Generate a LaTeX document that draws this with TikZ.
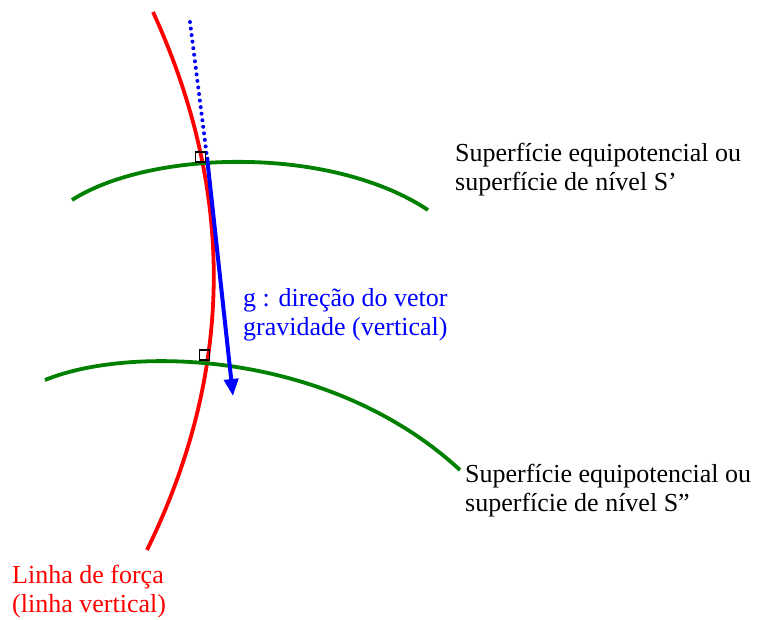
\documentclass[tikz,border=0pt]{standalone}
\usepackage{fontspec}
\setmainfont{Liberation Serif}
\usetikzlibrary{arrows.meta}
\begin{document}
\begin{tikzpicture}[x=1pt,y=-1pt,
  lbl/.style={anchor=base west,align=left,inner sep=0pt,font=\fontsize{26}{29}\selectfont},
  surf/.style={draw=green!50!black,line width=3.8pt},
  sq/.style={draw=black,line width=1.6pt,minimum size=10pt,inner sep=0pt}]
\useasboundingbox (0,0) rectangle (760,619);
\draw[red,line width=3.8pt] (153,12) .. controls (230,180) and (240,360) .. (147,550);
\draw[surf] (72,200) .. controls (150,150) and (330,145) .. (428,210);
\draw[surf] (45,380) .. controls (130,345) and (330,350) .. (460,470);
\coordinate (top) at (190,22);
\coordinate (p1) at (207,157);
\coordinate (tip) at (233,396);
\draw[blue,line width=4pt,dash pattern=on 0pt off 6.6pt,line cap=round] (top) -- (p1);
\draw[blue,line width=4pt,-{Triangle[length=17pt,width=14pt]}] (p1) -- (tip);
\node[sq] (s1) at (200.5,157) {};
\node[sq] (s2) at (204.5,355) {};
\node[lbl] (l1) at (455,190) {Superfície equipotencial ou\\superfície de nível S’};
\node[lbl] (l2) at (465,511) {Superfície equipotencial ou\\superfície de nível S”};
\node[lbl,text=blue] (l3) at (243,335) {g : direção do vetor\\gravidade (vertical)};
\node[lbl,text=red] (l4) at (12,612) {Linha de força\\(linha vertical)};
\end{tikzpicture}
\end{document}
